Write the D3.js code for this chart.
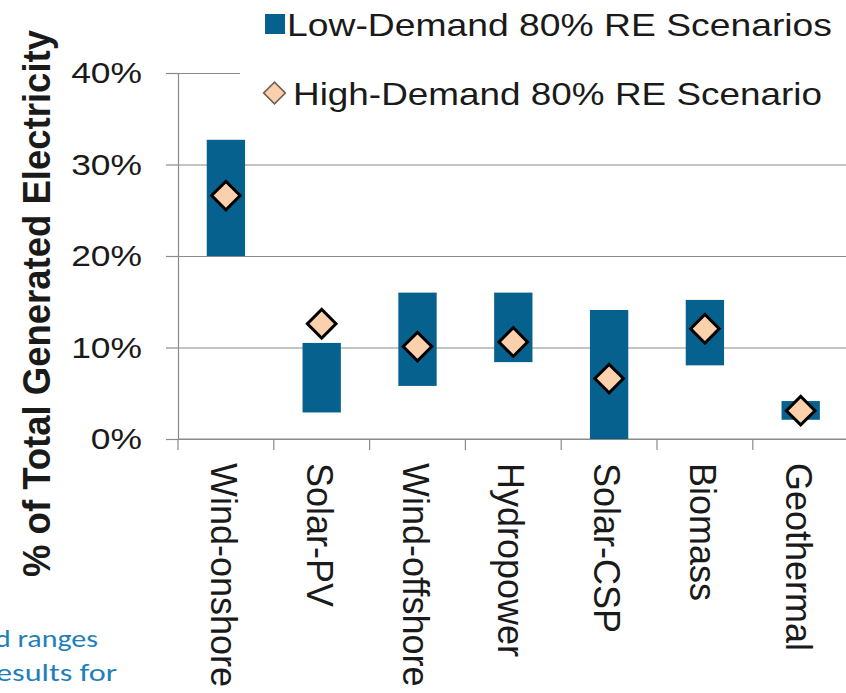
<!DOCTYPE html>
<html>
<head>
<meta charset="utf-8">
<script src="https://cdn.jsdelivr.net/npm/d3@7"></script>
<style>
  html, body { margin: 0; padding: 0; background: #ffffff; }
  svg { display: block; }
</style>
</head>
<body>
<svg id="chart" width="846" height="693"></svg>
<script>
// ---- data ----
const categories = ["Wind-onshore", "Solar-PV", "Wind-offshore", "Hydropower", "Solar-CSP", "Biomass", "Geothermal"];
const lowDemandMin = [20.0, 2.9, 5.8, 8.4, 0.0, 8.05, 2.1];
const lowDemandMax = [32.7, 10.5, 16.0, 16.0, 14.1, 15.2, 4.15];
const highDemand = [26.6, 12.6, 10.1, 10.6, 6.6, 12.05, 3.1];
const yTicks = [0, 10, 20, 30, 40];
const legendLabels = ["Low-Demand 80% RE Scenarios", "High-Demand 80% RE Scenario"];
const yTitle = "% of Total Generated Electricity";
const noteLines = ["d ranges", "esults for"];

// ---- styles ----
const barColor = "#07618f";
const diamondFill = "#fbd0ad";
const axisColor = "#8a8a8a";
const sansFont = "'Liberation Sans', Arial, Helvetica, sans-serif";
const noteFont = "Carlito, Calibri, Lato, 'Open Sans', sans-serif";

const svg = d3.select("#chart");
svg.append("rect").attr("width", 846).attr("height", 693).attr("fill", "#ffffff");

const x = d3.scaleBand().domain(categories).range([178, 848.6]).padding(0);
const y = d3.scaleLinear().domain([0, 40]).range([439, 73]);
const barW = x.bandwidth() * 0.4;

function stretch(sel, k) {
  sel.each(function () {
    const l = this.getComputedTextLength();
    d3.select(this).attr("textLength", l * k).attr("lengthAdjust", "spacingAndGlyphs");
  });
}

// gridlines
const grid = svg.append("g").attr("transform", "translate(178,0)")
  .call(d3.axisLeft(y).tickValues(yTicks).tickSize(-(846 - 178)).tickFormat(""));
grid.select(".domain").remove();
grid.selectAll("line").attr("stroke", axisColor).attr("stroke-width", 1.2);

// legend background (covers gridline)
svg.append("rect").attr("x", 240).attr("y", 0).attr("width", 606).attr("height", 118).attr("fill", "#ffffff");

// y axis
const yAxis = svg.append("g").attr("transform", "translate(178,0)")
  .call(d3.axisLeft(y).tickValues(yTicks).tickSize(12).tickSizeOuter(0).tickPadding(24).tickFormat(d => d + "%"));
yAxis.select(".domain").attr("stroke", axisColor).attr("stroke-width", 1.2);
yAxis.selectAll("line").attr("stroke", axisColor).attr("stroke-width", 1.2);
yAxis.selectAll("text").attr("font-family", sansFont).attr("font-size", 30).attr("fill", "#1a1a1a");
stretch(yAxis.selectAll("text"), 1.18);

// x axis line + boundary ticks
svg.append("line").attr("x1", 178).attr("x2", 846).attr("y1", y(0)).attr("y2", y(0))
  .attr("stroke", axisColor).attr("stroke-width", 1.2);
svg.append("g").selectAll("line").data(categories).join("line")
  .attr("x1", d => x(d)).attr("x2", d => x(d))
  .attr("y1", y(0)).attr("y2", y(0) + 11)
  .attr("stroke", axisColor).attr("stroke-width", 1.2);

// x labels (rotated, reading downwards)
svg.append("g").selectAll("text").data(categories).join("text")
  .attr("transform", d => `translate(${x(d) + x.bandwidth() / 2 - 2},463) rotate(90)`)
  .attr("dy", "0.36em")
  .attr("font-family", sansFont).attr("font-size", 36).attr("fill", "#1a1a1a")
  .text(d => d);

// range bars
svg.append("g").selectAll("rect").data(categories).join("rect")
  .attr("x", d => x(d) + (x.bandwidth() - barW) / 2)
  .attr("width", barW)
  .attr("y", (d, i) => y(lowDemandMax[i]))
  .attr("height", (d, i) => y(lowDemandMin[i]) - y(lowDemandMax[i]))
  .attr("fill", barColor);

// diamonds
const sq = d3.symbol().type(d3.symbolSquare).size(410);
svg.append("g").selectAll("path").data(categories).join("path")
  .attr("d", sq)
  .attr("transform", (d, i) => `translate(${x(d) + x.bandwidth() / 2},${y(highDemand[i])}) rotate(45)`)
  .attr("fill", diamondFill).attr("stroke", "#000000").attr("stroke-width", 3);

// y title
svg.append("text")
  .attr("transform", "translate(50,303.5) rotate(-90)")
  .attr("text-anchor", "middle")
  .attr("font-family", sansFont).attr("font-weight", "bold").attr("font-size", 38)
  .attr("textLength", 547).attr("lengthAdjust", "spacingAndGlyphs")
  .attr("fill", "#1a1a1a")
  .text(yTitle);

// legend
const leg = svg.append("g");
leg.append("rect").attr("x", 265).attr("y", 14).attr("width", 20).attr("height", 20).attr("fill", barColor);
leg.append("path").attr("d", d3.symbol().type(d3.symbolSquare).size(235))
  .attr("transform", "translate(274.5,93) rotate(45)")
  .attr("fill", diamondFill).attr("stroke", "#6e5f52").attr("stroke-width", 1.6);
leg.append("text").attr("x", 287).attr("y", 36)
  .attr("font-family", sansFont).attr("font-size", 32).attr("fill", "#1a1a1a")
  .attr("textLength", 545).attr("lengthAdjust", "spacingAndGlyphs")
  .text(legendLabels[0]);
leg.append("text").attr("x", 293).attr("y", 105)
  .attr("font-family", sansFont).attr("font-size", 32).attr("fill", "#1a1a1a")
  .attr("textLength", 529).attr("lengthAdjust", "spacingAndGlyphs")
  .text(legendLabels[1]);

// cropped note text at bottom-left
svg.append("text").attr("x", 98).attr("y", 647).attr("text-anchor", "end")
  .attr("font-family", noteFont).attr("font-size", 25)
  .attr("textLength", 103).attr("lengthAdjust", "spacingAndGlyphs")
  .attr("fill", "#1f7fba").text(noteLines[0]);
svg.append("text").attr("x", 117).attr("y", 681).attr("text-anchor", "end")
  .attr("font-family", noteFont).attr("font-size", 25)
  .attr("textLength", 121).attr("lengthAdjust", "spacingAndGlyphs")
  .attr("fill", "#1f7fba").text(noteLines[1]);
</script>
</body>
</html>
